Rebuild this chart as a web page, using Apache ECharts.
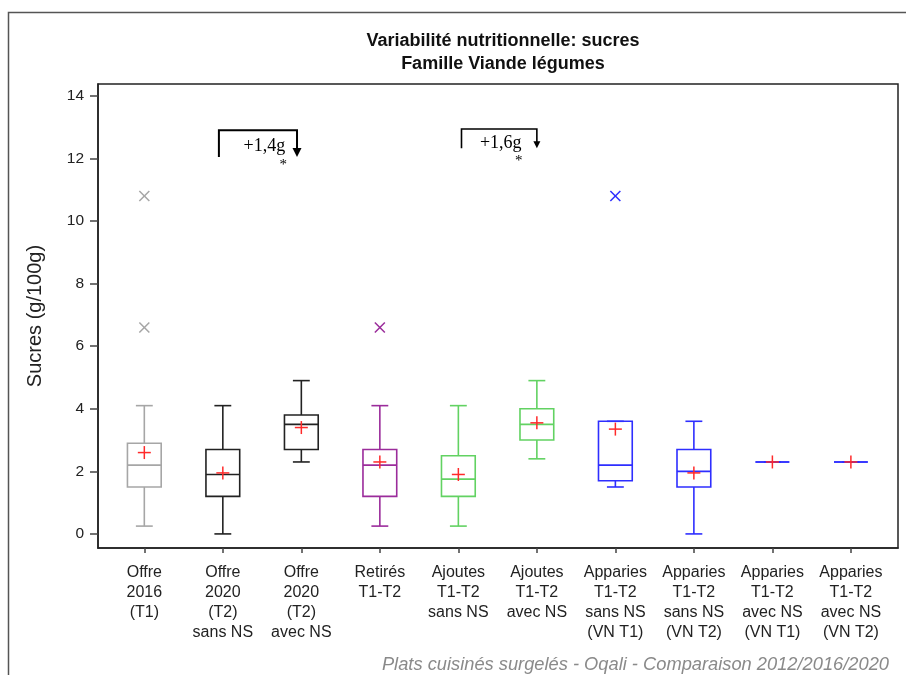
<!DOCTYPE html>
<html><head><meta charset="utf-8">
<script src="https://cdn.jsdelivr.net/npm/echarts@6/dist/echarts.min.js"></script>
<style>html,body{margin:0;padding:0;background:#fff}#c{width:906px;height:675px}</style>
</head><body><div id="c"></div>
<script>
// ---- data ----
const categories = [
  'Offre\n2016\n(T1)',
  'Offre\n2020\n(T2)\nsans NS',
  'Offre\n2020\n(T2)\navec NS',
  'Retirés\nT1-T2',
  'Ajoutes\nT1-T2\nsans NS',
  'Ajoutes\nT1-T2\navec NS',
  'Apparies\nT1-T2\nsans NS\n(VN T1)',
  'Apparies\nT1-T2\nsans NS\n(VN T2)',
  'Apparies\nT1-T2\navec NS\n(VN T1)',
  'Apparies\nT1-T2\navec NS\n(VN T2)'
];
const mins    = [0.25, 0,    2.3, 0.25, 0.25, 2.4,  1.5,  0,    2.3, 2.3];
const q1s     = [1.5,  1.2,  2.7, 1.2,  1.2,  3.0,  1.7,  1.5,  2.3, 2.3];
const medians = [2.2,  1.9,  3.5, 2.2,  1.75, 3.5,  2.2,  2.0,  2.3, 2.3];
const q3s     = [2.9,  2.7,  3.8, 2.7,  2.5,  4.0,  3.6,  2.7,  2.3, 2.3];
const maxs    = [4.1,  4.1,  4.9, 4.1,  4.1,  4.9,  3.6,  3.6,  2.3, 2.3];
const means   = [2.6,  1.95, 3.4, 2.3,  1.9,  3.55, 3.35, 1.95, 2.3, 2.3];
const outlierCats   = [0, 0, 3, 6];
const outlierValues = [10.8, 6.6, 6.6, 10.8];
const yTicks = [0, 2, 4, 6, 8, 10, 12, 14];
const xTicks = [0, 1, 2, 3, 4, 5, 6, 7, 8, 9];
// significance annotations (data space)
const annLabels = ['+1,4g', '+1,6g'];
const annFrom   = [0.95, 4.04];
const annTo     = [1.945, 5.0];
const annTop    = [12.9, 12.94];
const annLegEnd = [12.05, 12.33];
const annTip    = [12.05, 12.33];
const annTextX  = [1.53, 4.54];
const annTextY  = [12.4, 12.5];
const annStarX  = [1.77, 4.77];
const annStarY  = [11.79, 11.92];

// ---- styles ----
const boxColors = ['#a6a6a6','#222222','#222222','#9b2c9b','#62d262','#62d262','#2e2eff','#2e2eff','#2e2eff','#2e2eff'];
const FONT = '"Liberation Sans", Arial, sans-serif';

const boxData = categories.map((c, i) => [i, mins[i], q1s[i], medians[i], q3s[i], maxs[i]]);
const meanData = means.map((m, i) => [i, m]);
const outlierData = outlierCats.map((c, k) => [c, outlierValues[k]]);
const annData = annLabels.map((t, k) => [k]);

function ln(x1, y1, x2, y2, stroke, w) {
  return {type: 'line', shape: {x1, y1, x2, y2}, style: {stroke, lineWidth: w, fill: 'none'}};
}

function renderBox(params, api) {
  const i = api.value(0);
  const col = boxColors[i];
  const band = api.size([1, 0])[0];
  const hw = band * 0.215, cw = hw / 2;
  const pMin = api.coord([i, api.value(1)]);
  const pQ1 = api.coord([i, api.value(2)]);
  const pMed = api.coord([i, api.value(3)]);
  const pQ3 = api.coord([i, api.value(4)]);
  const pMax = api.coord([i, api.value(5)]);
  const x = pMin[0], w = 1.6;
  return {type: 'group', children: [
    ln(x, pMax[1], x, pQ3[1], col, w),
    ln(x, pQ1[1], x, pMin[1], col, w),
    ln(x - cw, pMax[1], x + cw, pMax[1], col, w),
    ln(x - cw, pMin[1], x + cw, pMin[1], col, w),
    {type: 'rect', shape: {x: x - hw, y: pQ3[1], width: 2 * hw, height: pQ1[1] - pQ3[1]},
     style: {stroke: col, lineWidth: w, fill: 'none'}},
    ln(x - hw, pMed[1], x + hw, pMed[1], col, w)
  ]};
}
function renderMean(params, api) {
  const p = api.coord([api.value(0), api.value(1)]);
  const s = 6.5, c = '#ff2a2a';
  return {type: 'group', children: [
    ln(p[0] - s, p[1], p[0] + s, p[1], c, 1.5),
    ln(p[0], p[1] - s, p[0], p[1] + s, c, 1.5)
  ]};
}
function renderOutlier(params, api) {
  const i = api.value(0);
  const p = api.coord([i, api.value(1)]);
  const s = 5, c = boxColors[i];
  return {type: 'group', children: [
    ln(p[0] - s, p[1] - s, p[0] + s, p[1] + s, c, 1.5),
    ln(p[0] - s, p[1] + s, p[0] + s, p[1] - s, c, 1.5)
  ]};
}
function renderAnn(params, api) {
  const k = api.value(0);
  const a = api.coord([annFrom[k], annLegEnd[k]]);
  const t = api.coord([annFrom[k], annTop[k]]);
  const r = api.coord([annTo[k], annTop[k]]);
  const tip = api.coord([annTo[k], annTip[k]]);
  const hs = k === 0 ? 4.5 : 3.5, hh = k === 0 ? 9 : 7;
  const lw = k === 0 ? 2 : 1.6;
  const tp = api.coord([annTextX[k], annTextY[k]]);
  const sp = api.coord([annStarX[k], annStarY[k]]);
  return {type: 'group', children: [
    {type: 'polyline', shape: {points: [a, t, r, [r[0], tip[1] - hh + 1]]},
     style: {stroke: '#000', lineWidth: lw, fill: 'none'}},
    {type: 'polygon', shape: {points: [[tip[0] - hs, tip[1] - hh], [tip[0] + hs, tip[1] - hh], [tip[0], tip[1]]]},
     style: {fill: '#000', stroke: 'none'}},
    {type: 'text', style: {text: annLabels[k], x: tp[0], y: tp[1], align: 'center', verticalAlign: 'middle',
      font: '18px "Liberation Serif", "Times New Roman", serif', fill: '#000'}},
    {type: 'text', style: {text: '*', x: sp[0], y: sp[1], align: 'center', verticalAlign: 'middle',
      font: '15px "Liberation Serif", "Times New Roman", serif', fill: '#000'}}
  ]};
}

const chart = echarts.init(document.getElementById('c'), null, {renderer: 'canvas'});
chart.setOption({
  animation: false,
  backgroundColor: '#fff',
  title: [
    {text: 'Variabilité nutritionnelle: sucres\nFamille Viande légumes', left: 498, top: 25, textAlign: 'center',
     textStyle: {fontFamily: FONT, fontSize: 18, fontWeight: 'bold', color: '#111', lineHeight: 23}},
    {text: 'Plats cuisinés surgelés - Oqali - Comparaison 2012/2016/2020', right: 12, top: 651,
     textStyle: {fontFamily: FONT, fontSize: 18.3, fontStyle: 'italic', fontWeight: 'normal', color: '#8a8a8a'}}
  ],
  graphic: [
    {type: 'rect', left: 6, top: 10, shape: {width: 1000, height: 1000}, silent: true,
     style: {fill: 'none', stroke: '#555', lineWidth: 1.5}}
  ],
  grid: {left: 98, top: 84, right: 8, bottom: 127, show: true, borderColor: '#222', borderWidth: 1.5,
         backgroundColor: 'transparent', containLabel: false},
  xAxis: {
    type: 'value', min: -0.59, max: 9.6,
    axisLine: {show: true, onZero: false, lineStyle: {color: '#222', width: 1.5}},
    axisTick: {show: true, customValues: xTicks, length: 5, lineStyle: {color: '#444', width: 1.5}},
    axisLabel: {customValues: xTicks, formatter: v => categories[Math.round(v)], margin: 15,
      fontFamily: FONT, fontSize: 16, color: '#222', lineHeight: 20, align: 'center'},
    splitLine: {show: false}
  },
  yAxis: {
    type: 'value', min: -0.45, max: 14.38,
    name: 'Sucres (g/100g)', nameLocation: 'middle', nameGap: 53,
    nameTextStyle: {fontFamily: FONT, fontSize: 20, color: '#222'},
    axisLine: {show: true, onZero: false, lineStyle: {color: '#222', width: 1.5}},
    axisTick: {show: true, customValues: yTicks, length: 8, lineStyle: {color: '#444', width: 1.5}},
    axisLabel: {customValues: yTicks, margin: 14, fontFamily: FONT, fontSize: 15.5, color: '#222'},
    splitLine: {show: false}
  },
  series: [
    {type: 'custom', name: 'boxes', renderItem: renderBox, data: boxData, encode: {x: 0, y: [1, 2, 3, 4, 5]}, z: 2},
    {type: 'custom', name: 'outliers', renderItem: renderOutlier, data: outlierData, encode: {x: 0, y: 1}, z: 3},
    {type: 'custom', name: 'means', renderItem: renderMean, data: meanData, encode: {x: 0, y: 1}, z: 4},
    {type: 'custom', name: 'annotations', renderItem: renderAnn, data: annData, z: 5}
  ]
});
</script></body></html>
